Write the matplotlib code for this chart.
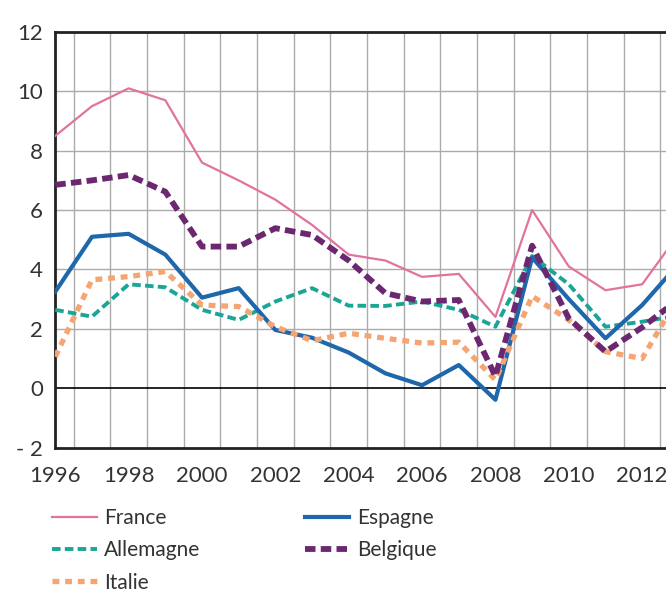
import matplotlib
matplotlib.use("Agg")
import matplotlib.pyplot as plt
import numpy as np

plt.rcParams["font.family"] = ["Lato", "DejaVu Sans"]

# --- data (values in %) ---
years = np.arange(1996, 2014)
france = [8.5, 9.5, 10.1, 9.7, 7.6, 7.0, 6.35, 5.5, 4.5, 4.3, 3.75, 3.85, 2.4, 6.0, 4.1, 3.3, 3.5, 5.2]
espagne = [3.25, 5.1, 5.2, 4.5, 3.05, 3.37, 1.96, 1.7, 1.2, 0.5, 0.1, 0.78, -0.39, 4.4, 3.0, 1.68, 2.8, 4.2]
allemagne = [2.64, 2.41, 3.5, 3.4, 2.64, 2.3, 2.92, 3.37, 2.78, 2.77, 2.92, 2.64, 2.07, 4.45, 3.5, 2.07, 2.24, 2.45]
belgique = [6.85, 7.0, 7.18, 6.62, 4.77, 4.77, 5.39, 5.16, 4.3, 3.2, 2.92, 2.97, 0.4, 4.8, 2.35, 1.23, 2.05, 3.0]
italie = [1.06, 3.65, 3.76, 3.93, 2.8, 2.75, 2.07, 1.6, 1.85, 1.68, 1.52, 1.55, 0.28, 3.1, 2.3, 1.23, 1.0, 3.1]

y_ticks = [-2, 0, 2, 4, 6, 8, 10, 12]
y_labels = ["- 2", "0", "2", "4", "6", "8", "10", "12"]
x_ticks = list(range(1996, 2013, 2))

fig = plt.figure(figsize=(6.66, 5.92), dpi=100)
ax = fig.add_axes([0.083, 0.244, 0.917, 0.702])

# grid: vertical lines sit between the years, horizontal every 2 points
for xv in np.arange(1996.5, 2013, 1.0):
    ax.axvline(xv, color="#ababab", lw=1.0, zorder=0)
for yv in [2, 4, 6, 8, 10]:
    ax.axhline(yv, color="#ababab", lw=1.0, zorder=0)
ax.axhline(0, color="black", lw=1.2, zorder=1)

ax.plot(years, france, color="#e2739c", lw=1.6, label="France", zorder=3)
ax.plot(years, allemagne, color="#1aa596", lw=2.8, dashes=(2.2, 1.1),
        label="Allemagne", zorder=4)
ax.plot(years, espagne, color="#1f67ab", lw=3.0, label="Espagne", zorder=5)
ax.plot(years, italie, color="#f5a572", lw=3.8, dashes=(1.3, 1.1),
        label="Italie", zorder=5)
ax.plot(years, belgique, color="#6b2870", lw=4.2, dashes=(1.8, 0.9),
        label="Belgique", zorder=6)

ax.set_xlim(1996, 2012.65)
ax.set_ylim(-2, 12)
ax.set_xticks(x_ticks)
ax.set_yticks(y_ticks)
ax.set_yticklabels(y_labels)
ax.tick_params(length=0, labelsize=16, colors="#333333")
ax.tick_params(axis="x", pad=13)
ax.tick_params(axis="y", pad=9)

for side in ["left", "top", "bottom"]:
    ax.spines[side].set_linewidth(2.0)
    ax.spines[side].set_color("#222222")
ax.spines["right"].set_visible(False)

handles, labels = ax.get_legend_handles_labels()
order = [labels.index(n) for n in ["France", "Allemagne", "Italie", "Espagne", "Belgique"]]
fig.legend([handles[i] for i in order], [labels[i] for i in order],
           loc="upper left", bbox_to_anchor=(0.05, 0.173), ncol=2,
           frameon=False, fontsize=15, handlelength=2.15, handletextpad=0.35,
           columnspacing=5.0, labelspacing=0.58, labelcolor="#333333")

fig.savefig("out.png", dpi=100)
